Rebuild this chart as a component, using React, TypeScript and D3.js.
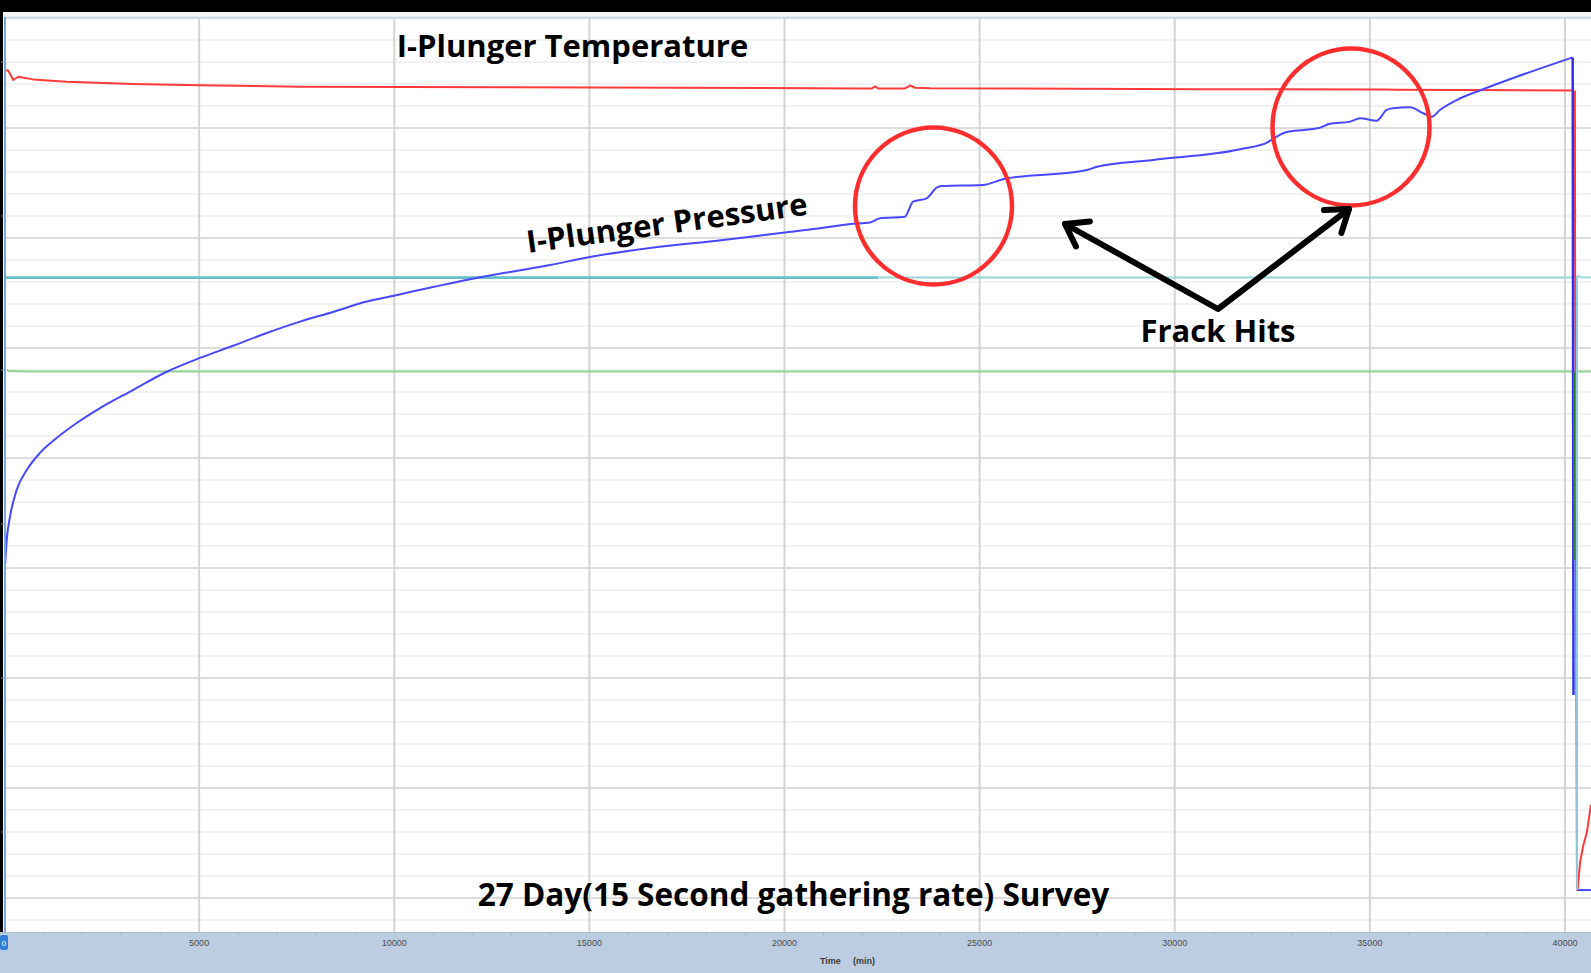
import React from 'react';
import * as d3 from 'd3';

const W = 1591;
const H = 973;

// x-axis ticks (minutes)
const xMajorTicks = [5000, 10000, 15000, 20000, 25000, 30000, 35000, 40000];
const xMinorTicks = [1000, 2000, 3000, 4000, 6000, 7000, 8000, 9000, 11000, 12000, 13000, 14000, 16000, 17000, 18000, 19000, 21000, 22000, 23000, 24000, 26000, 27000, 28000, 29000, 31000, 32000, 33000, 34000, 36000, 37000, 38000, 39000];
// hidden y-axis (arbitrary units)
const yMajorGrid = [0, 5, 10, 15, 20, 25, 30, 35, 40];
const yMinorGrid = [-1, 1, 2, 3, 4, 6, 7, 8, 9, 11, 12, 13, 14, 16, 17, 18, 19, 21, 22, 23, 24, 26, 27, 28, 29, 31, 32, 33, 34, 36, 37, 38, 39];
const yAxisTickMarks = [38, 31, 24, 17, 10, 3];

// I-Plunger Pressure  [time (min), value]
const pressureSeries: [number, number][] = [
  [26, 15.06], [69, 16.27], [154, 17.33], [325, 18.55], [582, 19.45], [922, 20.23],
  [1350, 20.91], [1863, 21.59], [2460, 22.27], [3306, 23.09], [4169, 23.92], [5022, 24.55],
  [5868, 25.10], [6731, 25.68], [7585, 26.20], [8430, 26.64], [9294, 27.11], [10019, 27.39],
  [10993, 27.77], [12197, 28.22], [13991, 28.77], [15016, 29.14], [16553, 29.55],
  [18270, 29.88], [19961, 30.24], [20909, 30.44], [21678, 30.64], [22190, 30.70],
  [22447, 30.90], [23087, 30.97], [23164, 31.19], [23292, 31.65], [23643, 31.80],
  [23900, 32.29], [24028, 32.36], [25086, 32.41], [25599, 32.67], [27751, 33.09],
  [28008, 33.24], [29443, 33.55], [31672, 34.03], [32389, 34.36], [32594, 34.59],
  [32876, 34.82], [33311, 34.91], [33696, 35.00], [33952, 35.18], [34490, 35.29],
  [34746, 35.44], [35174, 35.33], [35431, 35.82], [35592, 35.90], [36028, 35.94],
  [36369, 35.67], [36584, 35.51], [36797, 35.82], [37225, 36.27], [37899, 36.76],
  [38762, 37.33], [39615, 37.86], [40197, 38.21],
];
const pressureDrop: [number, number][] = [[40197, 38.21], [40218, 9.23]];
const pressureTail: [number, number][] = [[40325, 0.36], [40663, 0.36]];

// I-Plunger Temperature
const temperatureSeries: [number, number][] = [
  [26, 37.64], [110, 37.60], [238, 37.18], [366, 37.33], [743, 37.21], [1607, 37.10],
  [3306, 37.00], [5022, 36.94], [7585, 36.88], [15272, 36.84], [21934, 36.80],
  [22242, 36.80], [22319, 36.89], [22396, 36.80], [23087, 36.80], [23215, 36.93],
  [23344, 36.83], [23730, 36.81], [30647, 36.76], [35438, 36.75], [35650, 36.74],
  [40205, 36.70], [40256, 30.68], [40307, 0.36], [40325, 0.36], [40384, 1.59],
  [40461, 2.33], [40564, 3.01], [40664, 4.23],
];
const temperatureDropThick: [number, number][] = [[40240, 36.70], [40245, 30.68]];

// other channels
const tealSeriesA: [number, number][] = [[51, 28.2], [22400, 28.2]];
const tealSeriesB: [number, number][] = [[22400, 28.2], [40300, 28.2], [40330, 28.28], [40400, 28.22], [40663, 28.2]];
const tealDrop: [number, number][] = [[40305, 28.2], [40310, 0.36]];
const greenSeries: [number, number][] = [[70, 24.0], [130, 23.95], [600, 23.93], [40663, 23.93]];
const greenDrop: [number, number][] = [[40230, 23.93], [40232, 15.36]];

export default function App() {
  const x = d3.scaleLinear().domain([0, 40000]).range([4, 1565]);
  const y = d3.scaleLinear().domain([0, 40]).range([898, 18]);
  const line = d3.line<[number, number]>().x(d => x(d[0])).y(d => y(d[1]));
  const smooth = d3.line<[number, number]>().x(d => x(d[0])).y(d => y(d[1])).curve(d3.curveMonotoneX);

  const plotLeft = 5, plotTop = 17, plotBottom = 932;

  const arrow = (tx: number, ty: number, fx: number, fy: number) => {
    const dx = fx - tx, dy = fy - ty;
    const a = Math.atan2(dy, dx);
    const len = 25, sp = (35 * Math.PI) / 180;
    const p1 = [tx + len * Math.cos(a - sp), ty + len * Math.sin(a - sp)];
    const p2 = [tx + len * Math.cos(a + sp), ty + len * Math.sin(a + sp)];
    return `M${p1[0]},${p1[1]}L${tx},${ty}L${p2[0]},${p2[1]}`;
  };

  const font = "'Open Sans', 'Noto Sans', sans-serif";

  return (
    <svg width={W} height={H} style={{ position: 'absolute', left: 0, top: 0, display: 'block' }}>
      <defs>
        <clipPath id="plot">
          <rect x={plotLeft} y={plotTop} width={W - plotLeft} height={plotBottom - plotTop} />
        </clipPath>
      </defs>
      <rect x={0} y={0} width={W} height={H} fill="#ffffff" />
      {/* top frame */}
      <rect x={0} y={12} width={W} height={6} fill="#f3f3f3" />
      <rect x={0} y={0} width={W} height={12} fill="#000" />
      <rect x={0} y={0} width={3} height={plotBottom} fill="#000" />

      {/* grid */}
      <g>
        {yMinorGrid.map(v => (
          <line key={'mi' + v} x1={plotLeft} x2={W} y1={y(v)} y2={y(v)} stroke="#eeeeee" strokeWidth={1.5} />
        ))}
        {yMajorGrid.map(v => (
          <line key={'ma' + v} x1={plotLeft} x2={W} y1={y(v)} y2={y(v)} stroke="#dcdcdc" strokeWidth={2} />
        ))}
        {xMajorTicks.map(t => (
          <line key={'vx' + t} x1={x(t)} x2={x(t)} y1={plotTop} y2={plotBottom + 3} stroke="#d4d4d4" strokeWidth={2} />
        ))}
      </g>
      <line x1={plotLeft} x2={W} y1={plotTop + 0.5} y2={plotTop + 0.5} stroke="#c9d8e8" strokeWidth={1.5} />

      {/* series */}
      <g clipPath="url(#plot)" fill="none" strokeLinejoin="round">
        <path d={line(tealSeriesA) || ''} stroke="#66c0c6" strokeWidth={2.6} />
        <path d={line(tealSeriesB) || ''} stroke="#98d5db" strokeWidth={2} />
        <path d={line(greenSeries) || ''} stroke="#93d093" strokeWidth={2} />
        <path d={line(temperatureSeries) || ''} stroke="#ff3a3a" strokeWidth={2} />
        <path d={line(temperatureDropThick) || ''} stroke="#ff3a3a" strokeWidth={3} />
        <path d={smooth(pressureSeries) || ''} stroke="#4848ff" strokeWidth={2} />
        <path d={line(pressureDrop) || ''} stroke="#3030ee" strokeWidth={2.5} />
        <path d={line(pressureTail) || ''} stroke="#4848ff" strokeWidth={2} />
        <path d={line(tealDrop) || ''} stroke="#8ccbe0" strokeWidth={2} />
        <path d={line(greenDrop) || ''} stroke="#2e7d32" strokeWidth={2} />
      </g>

      {/* left axis line */}
      <line x1={5} x2={5} y1={plotTop} y2={plotBottom} stroke="#79a6d6" strokeWidth={2} />
      {yAxisTickMarks.map(v => (
        <line key={'yt' + v} x1={1} x2={4} y1={y(v)} y2={y(v)} stroke="#888" strokeWidth={1} />
      ))}

      {/* bottom axis band */}
      <rect x={0} y={plotBottom} width={W} height={H - plotBottom} fill="#bdcde1" />
      <line x1={0} x2={W} y1={plotBottom + 0.5} y2={plotBottom + 0.5} stroke="#a5bcd6" strokeWidth={1} />
      {xMinorTicks.map(t => (
        <line key={'mt' + t} x1={x(t)} x2={x(t)} y1={plotBottom} y2={plotBottom + 3} stroke="#9fb2c8" strokeWidth={1} />
      ))}
      {xMajorTicks.map(t => (
        <text key={'lb' + t} x={x(t)} y={946} textAnchor="middle" fontFamily="'Liberation Sans', Arial, sans-serif" fontSize={9} fill="#4a4a4a">
          {t}
        </text>
      ))}
      <text x={820} y={964} fontFamily="'Liberation Sans', Arial, sans-serif" fontSize={9} fontWeight={700} fill="#3a3a3a">Time</text>
      <text x={853} y={964} fontFamily="'Liberation Sans', Arial, sans-serif" fontSize={9} fontWeight={700} fill="#3a3a3a">(min)</text>
      <rect x={0} y={935} width={8} height={15} rx={2} fill="#2f7fd6" />
      <text x={4} y={946} textAnchor="middle" fontFamily="'Liberation Sans', Arial, sans-serif" fontSize={8} fill="#fff">0</text>

      {/* annotations */}
      <g fill="none" stroke="#ff2e2e" strokeWidth={4.5}>
        <circle cx={933.5} cy={206} r={78.5} />
        <circle cx={1351} cy={127} r={78.5} />
      </g>
      <g fill="none" stroke="#000" strokeWidth={6} strokeLinecap="round" strokeLinejoin="round">
        <path d="M1065,224L1218,309L1349,209" />
        <path d={arrow(1065, 224, 1218, 309)} />
        <path d={arrow(1349, 209, 1218, 309)} />
      </g>
      <g fontFamily={font} fontWeight={700} fill="#000">
        <text x={572.5} y={57} fontSize={31} textAnchor="middle">I-Plunger Temperature</text>
        <text x={528} y={253} fontSize={31} transform="rotate(-7.8 528 253)">I-Plunger Pressure</text>
        <text x={1218} y={342} fontSize={31} textAnchor="middle">Frack Hits</text>
        <text x={793.5} y={906} fontSize={31.5} textAnchor="middle">27 Day(15 Second gathering rate) Survey</text>
      </g>
    </svg>
  );
}
